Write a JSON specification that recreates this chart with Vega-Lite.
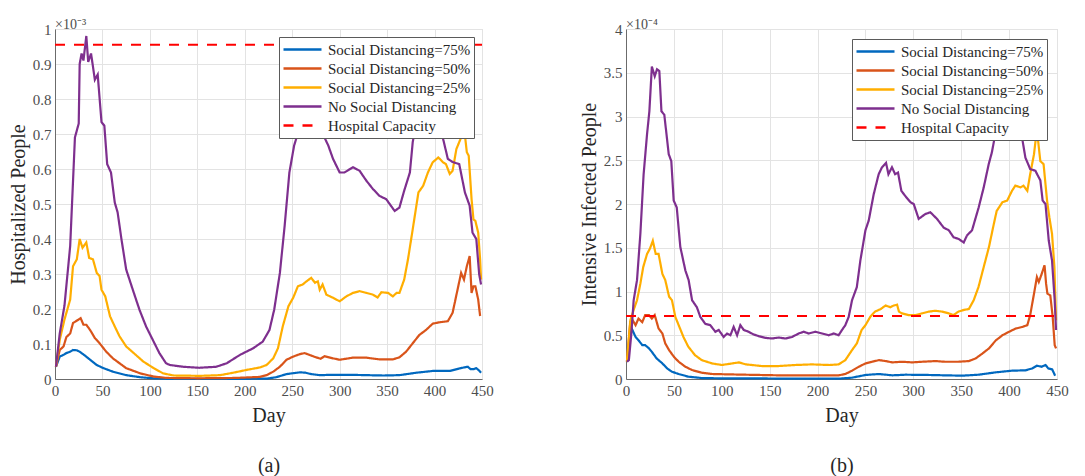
{
  "$schema": "https://vega.github.io/schema/vega-lite/v6.json",
  "padding": {"left": 7, "top": 17, "right": 5, "bottom": 0},
  "bounds": "flush",
  "spacing": 144,
  "config": {
    "font": "Liberation Serif",
    "view": {"stroke": "#d4d4d4"},
    "axis": {
      "labelFont": "Liberation Serif", "labelFontSize": 15, "labelColor": "#4d4d4d", "labelFlush": false,
      "titleFont": "Liberation Serif", "titleFontSize": 20, "titleFontWeight": "normal", "titleColor": "#262626",
      "domainColor": "#6b6b6b", "gridColor": "#e3e3e3", "ticks": false, "labelPadding": 4
    },
    "legend": {
      "labelFont": "Liberation Serif", "labelFontSize": 15, "labelColor": "#262626", "labelLimit": 300,
      "symbolType": "stroke", "symbolSize": 1444, "symbolStrokeWidth": 2.5, "clipHeight": 19,
      "rowPadding": 0, "labelOffset": 5, "padding": 3, "strokeColor": "#5a5a5a", "fillColor": "#ffffff",
      "cornerRadius": 0
    },
    "title": {"anchor": "start", "frame": "group", "fontSize": 14, "fontWeight": "normal", "color": "#4d4d4d", "font": "Liberation Serif", "offset": -10}
  },
  "resolve": {"scale": {"color": "independent", "strokeDash": "independent"}, "legend": {"color": "independent", "strokeDash": "independent"}},
  "datasets": {
    "a": [
      {"series":"Social Distancing=75%","day":1,"value":0.035},{"series":"Social Distancing=75%","day":5,"value":0.064},{"series":"Social Distancing=75%","day":9,"value":0.069},{"series":"Social Distancing=75%","day":12,"value":0.074},{"series":"Social Distancing=75%","day":16,"value":0.078},{"series":"Social Distancing=75%","day":19,"value":0.083},{"series":"Social Distancing=75%","day":23,"value":0.082},{"series":"Social Distancing=75%","day":26,"value":0.078},{"series":"Social Distancing=75%","day":29,"value":0.072},{"series":"Social Distancing=75%","day":32,"value":0.066},{"series":"Social Distancing=75%","day":37,"value":0.055},{"series":"Social Distancing=75%","day":44,"value":0.04},{"series":"Social Distancing=75%","day":51,"value":0.031},{"series":"Social Distancing=75%","day":61,"value":0.021},{"series":"Social Distancing=75%","day":75,"value":0.011},{"series":"Social Distancing=75%","day":90,"value":0.005},{"series":"Social Distancing=75%","day":104,"value":0.002},{"series":"Social Distancing=75%","day":118,"value":0.0005},{"series":"Social Distancing=75%","day":150,"value":0.0003},{"series":"Social Distancing=75%","day":200,"value":0.0005},{"series":"Social Distancing=75%","day":223,"value":0.001},{"series":"Social Distancing=75%","day":233,"value":0.005},{"series":"Social Distancing=75%","day":244,"value":0.014},{"series":"Social Distancing=75%","day":252,"value":0.017},{"series":"Social Distancing=75%","day":258,"value":0.019},{"series":"Social Distancing=75%","day":264,"value":0.018},{"series":"Social Distancing=75%","day":270,"value":0.014},{"series":"Social Distancing=75%","day":279,"value":0.011},{"series":"Social Distancing=75%","day":293,"value":0.012},{"series":"Social Distancing=75%","day":311,"value":0.012},{"series":"Social Distancing=75%","day":328,"value":0.011},{"series":"Social Distancing=75%","day":346,"value":0.01},{"series":"Social Distancing=75%","day":363,"value":0.011},{"series":"Social Distancing=75%","day":381,"value":0.018},{"series":"Social Distancing=75%","day":398,"value":0.023},{"series":"Social Distancing=75%","day":416,"value":0.023},{"series":"Social Distancing=75%","day":426,"value":0.03},{"series":"Social Distancing=75%","day":431,"value":0.033},{"series":"Social Distancing=75%","day":435,"value":0.035},{"series":"Social Distancing=75%","day":438,"value":0.028},{"series":"Social Distancing=75%","day":441,"value":0.028},{"series":"Social Distancing=75%","day":444,"value":0.031},{"series":"Social Distancing=75%","day":447,"value":0.024},{"series":"Social Distancing=75%","day":449,"value":0.018},

      {"series":"Social Distancing=50%","day":1,"value":0.035},{"series":"Social Distancing=50%","day":5,"value":0.083},{"series":"Social Distancing=50%","day":9,"value":0.093},{"series":"Social Distancing=50%","day":12,"value":0.12},{"series":"Social Distancing=50%","day":16,"value":0.13},{"series":"Social Distancing=50%","day":19,"value":0.16},{"series":"Social Distancing=50%","day":22,"value":0.165},{"series":"Social Distancing=50%","day":25,"value":0.17},{"series":"Social Distancing=50%","day":27,"value":0.174},{"series":"Social Distancing=50%","day":30,"value":0.155},{"series":"Social Distancing=50%","day":33,"value":0.155},{"series":"Social Distancing=50%","day":37,"value":0.14},{"series":"Social Distancing=50%","day":42,"value":0.117},{"series":"Social Distancing=50%","day":47,"value":0.102},{"series":"Social Distancing=50%","day":54,"value":0.078},{"series":"Social Distancing=50%","day":61,"value":0.059},{"series":"Social Distancing=50%","day":68,"value":0.045},{"series":"Social Distancing=50%","day":75,"value":0.031},{"series":"Social Distancing=50%","day":90,"value":0.016},{"series":"Social Distancing=50%","day":104,"value":0.007},{"series":"Social Distancing=50%","day":118,"value":0.003},{"series":"Social Distancing=50%","day":150,"value":0.002},{"series":"Social Distancing=50%","day":190,"value":0.003},{"series":"Social Distancing=50%","day":216,"value":0.006},{"series":"Social Distancing=50%","day":223,"value":0.011},{"series":"Social Distancing=50%","day":230,"value":0.021},{"series":"Social Distancing=50%","day":237,"value":0.035},{"series":"Social Distancing=50%","day":244,"value":0.055},{"series":"Social Distancing=50%","day":251,"value":0.064},{"series":"Social Distancing=50%","day":258,"value":0.071},{"series":"Social Distancing=50%","day":263,"value":0.074},{"series":"Social Distancing=50%","day":268,"value":0.069},{"series":"Social Distancing=50%","day":275,"value":0.062},{"series":"Social Distancing=50%","day":280,"value":0.058},{"series":"Social Distancing=50%","day":284,"value":0.065},{"series":"Social Distancing=50%","day":293,"value":0.059},{"series":"Social Distancing=50%","day":300,"value":0.055},{"series":"Social Distancing=50%","day":314,"value":0.061},{"series":"Social Distancing=50%","day":328,"value":0.061},{"series":"Social Distancing=50%","day":342,"value":0.056},{"series":"Social Distancing=50%","day":356,"value":0.056},{"series":"Social Distancing=50%","day":363,"value":0.062},{"series":"Social Distancing=50%","day":370,"value":0.078},{"series":"Social Distancing=50%","day":377,"value":0.102},{"series":"Social Distancing=50%","day":384,"value":0.126},{"series":"Social Distancing=50%","day":391,"value":0.14},{"series":"Social Distancing=50%","day":398,"value":0.158},{"series":"Social Distancing=50%","day":405,"value":0.162},{"series":"Social Distancing=50%","day":414,"value":0.165},{"series":"Social Distancing=50%","day":419,"value":0.189},{"series":"Social Distancing=50%","day":425,"value":0.265},{"series":"Social Distancing=50%","day":428,"value":0.303},{"series":"Social Distancing=50%","day":431,"value":0.284},{"series":"Social Distancing=50%","day":434,"value":0.322},{"series":"Social Distancing=50%","day":437,"value":0.351},{"series":"Social Distancing=50%","day":439,"value":0.246},{"series":"Social Distancing=50%","day":441,"value":0.265},{"series":"Social Distancing=50%","day":443,"value":0.265},{"series":"Social Distancing=50%","day":446,"value":0.227},{"series":"Social Distancing=50%","day":448,"value":0.18},

      {"series":"Social Distancing=25%","day":1,"value":0.035},{"series":"Social Distancing=25%","day":5,"value":0.112},{"series":"Social Distancing=25%","day":10,"value":0.17},{"series":"Social Distancing=25%","day":16,"value":0.227},{"series":"Social Distancing=25%","day":19,"value":0.322},{"series":"Social Distancing=25%","day":23,"value":0.342},{"series":"Social Distancing=25%","day":26,"value":0.4},{"series":"Social Distancing=25%","day":29,"value":0.375},{"series":"Social Distancing=25%","day":33,"value":0.39},{"series":"Social Distancing=25%","day":36,"value":0.346},{"series":"Social Distancing=25%","day":40,"value":0.342},{"series":"Social Distancing=25%","day":44,"value":0.303},{"series":"Social Distancing=25%","day":47,"value":0.294},{"series":"Social Distancing=25%","day":49,"value":0.255},{"series":"Social Distancing=25%","day":53,"value":0.236},{"series":"Social Distancing=25%","day":58,"value":0.179},{"series":"Social Distancing=25%","day":63,"value":0.15},{"series":"Social Distancing=25%","day":68,"value":0.122},{"series":"Social Distancing=25%","day":75,"value":0.093},{"series":"Social Distancing=25%","day":83,"value":0.074},{"series":"Social Distancing=25%","day":93,"value":0.05},{"series":"Social Distancing=25%","day":104,"value":0.031},{"series":"Social Distancing=25%","day":114,"value":0.016},{"series":"Social Distancing=25%","day":125,"value":0.01},{"series":"Social Distancing=25%","day":153,"value":0.009},{"series":"Social Distancing=25%","day":174,"value":0.011},{"series":"Social Distancing=25%","day":188,"value":0.018},{"series":"Social Distancing=25%","day":202,"value":0.026},{"series":"Social Distancing=25%","day":216,"value":0.033},{"series":"Social Distancing=25%","day":223,"value":0.04},{"series":"Social Distancing=25%","day":230,"value":0.059},{"series":"Social Distancing=25%","day":235,"value":0.088},{"series":"Social Distancing=25%","day":240,"value":0.15},{"series":"Social Distancing=25%","day":246,"value":0.208},{"series":"Social Distancing=25%","day":251,"value":0.232},{"series":"Social Distancing=25%","day":256,"value":0.265},{"series":"Social Distancing=25%","day":261,"value":0.27},{"series":"Social Distancing=25%","day":265,"value":0.279},{"series":"Social Distancing=25%","day":270,"value":0.289},{"series":"Social Distancing=25%","day":274,"value":0.275},{"series":"Social Distancing=25%","day":277,"value":0.279},{"series":"Social Distancing=25%","day":279,"value":0.255},{"series":"Social Distancing=25%","day":282,"value":0.27},{"series":"Social Distancing=25%","day":286,"value":0.241},{"series":"Social Distancing=25%","day":293,"value":0.232},{"series":"Social Distancing=25%","day":300,"value":0.222},{"series":"Social Distancing=25%","day":307,"value":0.236},{"series":"Social Distancing=25%","day":314,"value":0.246},{"series":"Social Distancing=25%","day":321,"value":0.251},{"series":"Social Distancing=25%","day":328,"value":0.246},{"series":"Social Distancing=25%","day":335,"value":0.241},{"series":"Social Distancing=25%","day":340,"value":0.233},{"series":"Social Distancing=25%","day":344,"value":0.248},{"series":"Social Distancing=25%","day":351,"value":0.246},{"series":"Social Distancing=25%","day":356,"value":0.236},{"series":"Social Distancing=25%","day":360,"value":0.246},{"series":"Social Distancing=25%","day":363,"value":0.246},{"series":"Social Distancing=25%","day":368,"value":0.284},{"series":"Social Distancing=25%","day":372,"value":0.342},{"series":"Social Distancing=25%","day":377,"value":0.428},{"series":"Social Distancing=25%","day":383,"value":0.533},{"series":"Social Distancing=25%","day":388,"value":0.552},{"series":"Social Distancing=25%","day":393,"value":0.59},{"series":"Social Distancing=25%","day":398,"value":0.619},{"series":"Social Distancing=25%","day":404,"value":0.633},{"series":"Social Distancing=25%","day":409,"value":0.619},{"series":"Social Distancing=25%","day":412,"value":0.614},{"series":"Social Distancing=25%","day":416,"value":0.586},{"series":"Social Distancing=25%","day":419,"value":0.595},{"series":"Social Distancing=25%","day":423,"value":0.657},{"series":"Social Distancing=25%","day":428,"value":0.69},{"series":"Social Distancing=25%","day":431,"value":0.72},{"series":"Social Distancing=25%","day":434,"value":0.648},{"series":"Social Distancing=25%","day":436,"value":0.638},{"series":"Social Distancing=25%","day":439,"value":0.514},{"series":"Social Distancing=25%","day":441,"value":0.456},{"series":"Social Distancing=25%","day":443,"value":0.452},{"series":"Social Distancing=25%","day":446,"value":0.418},{"series":"Social Distancing=25%","day":448,"value":0.342},{"series":"Social Distancing=25%","day":449,"value":0.284},

      {"series":"No Social Distancing","day":1,"value":0.035},{"series":"No Social Distancing","day":5,"value":0.13},{"series":"No Social Distancing","day":10,"value":0.21},{"series":"No Social Distancing","day":16,"value":0.38},{"series":"No Social Distancing","day":21,"value":0.69},{"series":"No Social Distancing","day":25,"value":0.73},{"series":"No Social Distancing","day":26,"value":0.9},{"series":"No Social Distancing","day":28,"value":0.93},{"series":"No Social Distancing","day":30,"value":0.91},{"series":"No Social Distancing","day":33,"value":0.98},{"series":"No Social Distancing","day":35,"value":0.906},{"series":"No Social Distancing","day":38,"value":0.93},{"series":"No Social Distancing","day":42,"value":0.855},{"series":"No Social Distancing","day":45,"value":0.87},{"series":"No Social Distancing","day":49,"value":0.734},{"series":"No Social Distancing","day":52,"value":0.724},{"series":"No Social Distancing","day":55,"value":0.614},{"series":"No Social Distancing","day":59,"value":0.59},{"series":"No Social Distancing","day":63,"value":0.504},{"series":"No Social Distancing","day":66,"value":0.476},{"series":"No Social Distancing","day":70,"value":0.4},{"series":"No Social Distancing","day":75,"value":0.313},{"series":"No Social Distancing","day":82,"value":0.255},{"series":"No Social Distancing","day":89,"value":0.198},{"series":"No Social Distancing","day":96,"value":0.15},{"series":"No Social Distancing","day":103,"value":0.112},{"series":"No Social Distancing","day":110,"value":0.074},{"series":"No Social Distancing","day":117,"value":0.045},{"series":"No Social Distancing","day":121,"value":0.04},{"series":"No Social Distancing","day":135,"value":0.035},{"series":"No Social Distancing","day":152,"value":0.032},{"series":"No Social Distancing","day":170,"value":0.035},{"series":"No Social Distancing","day":181,"value":0.045},{"series":"No Social Distancing","day":195,"value":0.069},{"series":"No Social Distancing","day":209,"value":0.088},{"series":"No Social Distancing","day":219,"value":0.107},{"series":"No Social Distancing","day":226,"value":0.14},{"series":"No Social Distancing","day":231,"value":0.198},{"series":"No Social Distancing","day":237,"value":0.303},{"series":"No Social Distancing","day":242,"value":0.437},{"series":"No Social Distancing","day":247,"value":0.59},{"series":"No Social Distancing","day":252,"value":0.667},{"series":"No Social Distancing","day":258,"value":0.72},{"series":"No Social Distancing","day":263,"value":0.75},{"series":"No Social Distancing","day":268,"value":0.77},{"series":"No Social Distancing","day":273,"value":0.76},{"series":"No Social Distancing","day":278,"value":0.73},{"series":"No Social Distancing","day":284,"value":0.69},{"series":"No Social Distancing","day":288,"value":0.667},{"series":"No Social Distancing","day":293,"value":0.629},{"series":"No Social Distancing","day":300,"value":0.59},{"series":"No Social Distancing","day":305,"value":0.59},{"series":"No Social Distancing","day":314,"value":0.605},{"series":"No Social Distancing","day":321,"value":0.595},{"series":"No Social Distancing","day":328,"value":0.567},{"series":"No Social Distancing","day":335,"value":0.543},{"series":"No Social Distancing","day":342,"value":0.523},{"series":"No Social Distancing","day":349,"value":0.514},{"series":"No Social Distancing","day":354,"value":0.495},{"series":"No Social Distancing","day":358,"value":0.48},{"series":"No Social Distancing","day":363,"value":0.49},{"series":"No Social Distancing","day":368,"value":0.538},{"series":"No Social Distancing","day":374,"value":0.59},{"series":"No Social Distancing","day":377,"value":0.677},{"series":"No Social Distancing","day":382,"value":0.75},{"series":"No Social Distancing","day":387,"value":0.8},{"series":"No Social Distancing","day":393,"value":0.83},{"series":"No Social Distancing","day":399,"value":0.82},{"series":"No Social Distancing","day":405,"value":0.76},{"series":"No Social Distancing","day":409,"value":0.686},{"series":"No Social Distancing","day":414,"value":0.629},{"series":"No Social Distancing","day":419,"value":0.62},{"series":"No Social Distancing","day":426,"value":0.614},{"series":"No Social Distancing","day":432,"value":0.533},{"series":"No Social Distancing","day":437,"value":0.495},{"series":"No Social Distancing","day":440,"value":0.418},{"series":"No Social Distancing","day":444,"value":0.4},{"series":"No Social Distancing","day":447,"value":0.3},{"series":"No Social Distancing","day":449,"value":0.27},

      {"series":"Hospital Capacity","day":0,"value":0.955},{"series":"Hospital Capacity","day":450,"value":0.955}
    ],
    "b": [
      {"series":"Social Distancing=75%","day":1,"value":0.2},{"series":"Social Distancing=75%","day":4,"value":0.45},{"series":"Social Distancing=75%","day":6,"value":0.577},{"series":"Social Distancing=75%","day":10,"value":0.48},{"series":"Social Distancing=75%","day":13,"value":0.444},{"series":"Social Distancing=75%","day":17,"value":0.387},{"series":"Social Distancing=75%","day":20,"value":0.387},{"series":"Social Distancing=75%","day":24,"value":0.35},{"series":"Social Distancing=75%","day":27,"value":0.31},{"series":"Social Distancing=75%","day":32,"value":0.235},{"series":"Social Distancing=75%","day":38,"value":0.178},{"series":"Social Distancing=75%","day":43,"value":0.12},{"series":"Social Distancing=75%","day":48,"value":0.083},{"series":"Social Distancing=75%","day":55,"value":0.057},{"series":"Social Distancing=75%","day":65,"value":0.027},{"series":"Social Distancing=75%","day":79,"value":0.011},{"series":"Social Distancing=75%","day":97,"value":0.008},{"series":"Social Distancing=75%","day":125,"value":0.008},{"series":"Social Distancing=75%","day":160,"value":0.005},{"series":"Social Distancing=75%","day":222,"value":0.004},{"series":"Social Distancing=75%","day":236,"value":0.015},{"series":"Social Distancing=75%","day":250,"value":0.046},{"series":"Social Distancing=75%","day":264,"value":0.057},{"series":"Social Distancing=75%","day":278,"value":0.042},{"series":"Social Distancing=75%","day":292,"value":0.049},{"series":"Social Distancing=75%","day":316,"value":0.046},{"series":"Social Distancing=75%","day":333,"value":0.042},{"series":"Social Distancing=75%","day":351,"value":0.038},{"series":"Social Distancing=75%","day":368,"value":0.049},{"series":"Social Distancing=75%","day":386,"value":0.076},{"series":"Social Distancing=75%","day":403,"value":0.095},{"series":"Social Distancing=75%","day":417,"value":0.099},{"series":"Social Distancing=75%","day":424,"value":0.12},{"series":"Social Distancing=75%","day":429,"value":0.152},{"series":"Social Distancing=75%","day":434,"value":0.14},{"series":"Social Distancing=75%","day":438,"value":0.16},{"series":"Social Distancing=75%","day":441,"value":0.12},{"series":"Social Distancing=75%","day":445,"value":0.11},{"series":"Social Distancing=75%","day":448,"value":0.038},

      {"series":"Social Distancing=50%","day":1,"value":0.2},{"series":"Social Distancing=50%","day":4.5,"value":0.65},{"series":"Social Distancing=50%","day":7,"value":0.67},{"series":"Social Distancing=50%","day":10,"value":0.615},{"series":"Social Distancing=50%","day":13,"value":0.69},{"series":"Social Distancing=50%","day":17,"value":0.65},{"series":"Social Distancing=50%","day":20,"value":0.73},{"series":"Social Distancing=50%","day":24,"value":0.73},{"series":"Social Distancing=50%","day":27,"value":0.69},{"series":"Social Distancing=50%","day":30,"value":0.73},{"series":"Social Distancing=50%","day":34,"value":0.577},{"series":"Social Distancing=50%","day":38,"value":0.52},{"series":"Social Distancing=50%","day":41,"value":0.406},{"series":"Social Distancing=50%","day":45,"value":0.33},{"series":"Social Distancing=50%","day":50,"value":0.254},{"series":"Social Distancing=50%","day":55,"value":0.197},{"series":"Social Distancing=50%","day":62,"value":0.14},{"series":"Social Distancing=50%","day":69,"value":0.102},{"series":"Social Distancing=50%","day":79,"value":0.072},{"series":"Social Distancing=50%","day":90,"value":0.057},{"series":"Social Distancing=50%","day":107,"value":0.053},{"series":"Social Distancing=50%","day":125,"value":0.049},{"series":"Social Distancing=50%","day":159,"value":0.042},{"series":"Social Distancing=50%","day":194,"value":0.042},{"series":"Social Distancing=50%","day":222,"value":0.042},{"series":"Social Distancing=50%","day":229,"value":0.057},{"series":"Social Distancing=50%","day":236,"value":0.095},{"series":"Social Distancing=50%","day":243,"value":0.14},{"series":"Social Distancing=50%","day":250,"value":0.178},{"series":"Social Distancing=50%","day":257,"value":0.197},{"series":"Social Distancing=50%","day":264,"value":0.216},{"series":"Social Distancing=50%","day":271,"value":0.205},{"series":"Social Distancing=50%","day":278,"value":0.19},{"series":"Social Distancing=50%","day":288,"value":0.197},{"series":"Social Distancing=50%","day":299,"value":0.19},{"series":"Social Distancing=50%","day":309,"value":0.197},{"series":"Social Distancing=50%","day":323,"value":0.205},{"series":"Social Distancing=50%","day":333,"value":0.197},{"series":"Social Distancing=50%","day":347,"value":0.197},{"series":"Social Distancing=50%","day":358,"value":0.205},{"series":"Social Distancing=50%","day":365,"value":0.235},{"series":"Social Distancing=50%","day":372,"value":0.29},{"series":"Social Distancing=50%","day":379,"value":0.35},{"series":"Social Distancing=50%","day":386,"value":0.44},{"series":"Social Distancing=50%","day":393,"value":0.5},{"series":"Social Distancing=50%","day":400,"value":0.54},{"series":"Social Distancing=50%","day":407,"value":0.577},{"series":"Social Distancing=50%","day":414,"value":0.596},{"series":"Social Distancing=50%","day":419,"value":0.615},{"series":"Social Distancing=50%","day":422,"value":0.73},{"series":"Social Distancing=50%","day":426,"value":0.975},{"series":"Social Distancing=50%","day":429,"value":1.165},{"series":"Social Distancing=50%","day":431,"value":1.11},{"series":"Social Distancing=50%","day":434,"value":1.2},{"series":"Social Distancing=50%","day":437,"value":1.3},{"series":"Social Distancing=50%","day":438.6,"value":1.09},{"series":"Social Distancing=50%","day":440,"value":0.975},{"series":"Social Distancing=50%","day":443,"value":0.956},{"series":"Social Distancing=50%","day":445.5,"value":0.71},{"series":"Social Distancing=50%","day":447.6,"value":0.387},{"series":"Social Distancing=50%","day":449,"value":0.35},

      {"series":"Social Distancing=25%","day":1,"value":0.2},{"series":"Social Distancing=25%","day":4.5,"value":0.67},{"series":"Social Distancing=25%","day":8,"value":0.79},{"series":"Social Distancing=25%","day":11.5,"value":0.9},{"series":"Social Distancing=25%","day":15,"value":1.09},{"series":"Social Distancing=25%","day":18,"value":1.28},{"series":"Social Distancing=25%","day":22,"value":1.43},{"series":"Social Distancing=25%","day":25,"value":1.49},{"series":"Social Distancing=25%","day":28,"value":1.58},{"series":"Social Distancing=25%","day":31,"value":1.43},{"series":"Social Distancing=25%","day":34,"value":1.43},{"series":"Social Distancing=25%","day":38,"value":1.2},{"series":"Social Distancing=25%","day":41,"value":1.13},{"series":"Social Distancing=25%","day":45,"value":0.94},{"series":"Social Distancing=25%","day":48,"value":0.9},{"series":"Social Distancing=25%","day":51.5,"value":0.71},{"series":"Social Distancing=25%","day":55,"value":0.615},{"series":"Social Distancing=25%","day":60,"value":0.48},{"series":"Social Distancing=25%","day":65,"value":0.37},{"series":"Social Distancing=25%","day":72,"value":0.273},{"series":"Social Distancing=25%","day":79,"value":0.216},{"series":"Social Distancing=25%","day":90,"value":0.178},{"series":"Social Distancing=25%","day":100,"value":0.16},{"series":"Social Distancing=25%","day":111,"value":0.178},{"series":"Social Distancing=25%","day":118,"value":0.19},{"series":"Social Distancing=25%","day":125,"value":0.167},{"series":"Social Distancing=25%","day":142,"value":0.148},{"series":"Social Distancing=25%","day":159,"value":0.148},{"series":"Social Distancing=25%","day":177,"value":0.16},{"series":"Social Distancing=25%","day":194,"value":0.167},{"series":"Social Distancing=25%","day":212,"value":0.16},{"series":"Social Distancing=25%","day":222,"value":0.167},{"series":"Social Distancing=25%","day":229,"value":0.216},{"series":"Social Distancing=25%","day":236,"value":0.33},{"series":"Social Distancing=25%","day":241,"value":0.406},{"series":"Social Distancing=25%","day":246,"value":0.56},{"series":"Social Distancing=25%","day":250,"value":0.615},{"series":"Social Distancing=25%","day":255,"value":0.71},{"series":"Social Distancing=25%","day":260,"value":0.77},{"series":"Social Distancing=25%","day":266,"value":0.8},{"series":"Social Distancing=25%","day":271,"value":0.84},{"series":"Social Distancing=25%","day":276,"value":0.82},{"series":"Social Distancing=25%","day":279.5,"value":0.84},{"series":"Social Distancing=25%","day":283,"value":0.85},{"series":"Social Distancing=25%","day":285,"value":0.77},{"series":"Social Distancing=25%","day":288,"value":0.75},{"series":"Social Distancing=25%","day":295,"value":0.73},{"series":"Social Distancing=25%","day":302,"value":0.73},{"series":"Social Distancing=25%","day":309,"value":0.75},{"series":"Social Distancing=25%","day":316,"value":0.77},{"series":"Social Distancing=25%","day":323,"value":0.78},{"series":"Social Distancing=25%","day":330,"value":0.77},{"series":"Social Distancing=25%","day":337,"value":0.75},{"series":"Social Distancing=25%","day":342,"value":0.73},{"series":"Social Distancing=25%","day":347,"value":0.77},{"series":"Social Distancing=25%","day":353,"value":0.79},{"series":"Social Distancing=25%","day":358,"value":0.8},{"series":"Social Distancing=25%","day":363,"value":0.9},{"series":"Social Distancing=25%","day":368,"value":1.05},{"series":"Social Distancing=25%","day":373.5,"value":1.28},{"series":"Social Distancing=25%","day":379,"value":1.51},{"series":"Social Distancing=25%","day":384,"value":1.77},{"series":"Social Distancing=25%","day":387,"value":1.92},{"series":"Social Distancing=25%","day":393,"value":2.02},{"series":"Social Distancing=25%","day":398,"value":2.04},{"series":"Social Distancing=25%","day":403,"value":2.15},{"series":"Social Distancing=25%","day":406.5,"value":2.21},{"series":"Social Distancing=25%","day":412,"value":2.19},{"series":"Social Distancing=25%","day":415,"value":2.21},{"series":"Social Distancing=25%","day":419,"value":2.15},{"series":"Social Distancing=25%","day":422,"value":2.34},{"series":"Social Distancing=25%","day":426,"value":2.57},{"series":"Social Distancing=25%","day":429,"value":2.85},{"series":"Social Distancing=25%","day":432.6,"value":2.49},{"series":"Social Distancing=25%","day":436,"value":2.455},{"series":"Social Distancing=25%","day":439.6,"value":2.04},{"series":"Social Distancing=25%","day":442,"value":1.85},{"series":"Social Distancing=25%","day":444.8,"value":1.66},{"series":"Social Distancing=25%","day":447.3,"value":1.28},{"series":"Social Distancing=25%","day":449,"value":0.67},

      {"series":"No Social Distancing","day":1,"value":0.197},{"series":"No Social Distancing","day":3,"value":0.216},{"series":"No Social Distancing","day":5.6,"value":0.52},{"series":"No Social Distancing","day":8,"value":0.9},{"series":"No Social Distancing","day":11.5,"value":1.13},{"series":"No Social Distancing","day":15,"value":1.66},{"series":"No Social Distancing","day":18.4,"value":2.34},{"series":"No Social Distancing","day":22,"value":2.8},{"series":"No Social Distancing","day":24.4,"value":3.06},{"series":"No Social Distancing","day":27,"value":3.57},{"series":"No Social Distancing","day":30,"value":3.46},{"series":"No Social Distancing","day":32.4,"value":3.54},{"series":"No Social Distancing","day":34.8,"value":3.52},{"series":"No Social Distancing","day":37,"value":3.06},{"series":"No Social Distancing","day":40,"value":3.02},{"series":"No Social Distancing","day":44.6,"value":2.57},{"series":"No Social Distancing","day":47.3,"value":2.49},{"series":"No Social Distancing","day":49.8,"value":2.04},{"series":"No Social Distancing","day":53,"value":1.96},{"series":"No Social Distancing","day":56.7,"value":1.51},{"series":"No Social Distancing","day":62,"value":1.24},{"series":"No Social Distancing","day":65.4,"value":1.13},{"series":"No Social Distancing","day":69,"value":0.9},{"series":"No Social Distancing","day":74,"value":0.82},{"series":"No Social Distancing","day":77.6,"value":0.71},{"series":"No Social Distancing","day":82.8,"value":0.63},{"series":"No Social Distancing","day":88,"value":0.615},{"series":"No Social Distancing","day":93.3,"value":0.54},{"series":"No Social Distancing","day":96.8,"value":0.56},{"series":"No Social Distancing","day":102,"value":0.48},{"series":"No Social Distancing","day":105.5,"value":0.52},{"series":"No Social Distancing","day":109,"value":0.5},{"series":"No Social Distancing","day":112.4,"value":0.596},{"series":"No Social Distancing","day":116,"value":0.5},{"series":"No Social Distancing","day":119.4,"value":0.615},{"series":"No Social Distancing","day":123,"value":0.56},{"series":"No Social Distancing","day":128,"value":0.54},{"series":"No Social Distancing","day":133,"value":0.51},{"series":"No Social Distancing","day":138.5,"value":0.49},{"series":"No Social Distancing","day":145.5,"value":0.47},{"series":"No Social Distancing","day":152.5,"value":0.463},{"series":"No Social Distancing","day":159.4,"value":0.474},{"series":"No Social Distancing","day":166.4,"value":0.463},{"series":"No Social Distancing","day":173.3,"value":0.48},{"series":"No Social Distancing","day":180.3,"value":0.52},{"series":"No Social Distancing","day":185.5,"value":0.54},{"series":"No Social Distancing","day":190.7,"value":0.52},{"series":"No Social Distancing","day":197.7,"value":0.54},{"series":"No Social Distancing","day":204.7,"value":0.52},{"series":"No Social Distancing","day":211.6,"value":0.5},{"series":"No Social Distancing","day":216.8,"value":0.52},{"series":"No Social Distancing","day":222,"value":0.5},{"series":"No Social Distancing","day":225.5,"value":0.56},{"series":"No Social Distancing","day":229,"value":0.615},{"series":"No Social Distancing","day":232.5,"value":0.71},{"series":"No Social Distancing","day":236,"value":0.9},{"series":"No Social Distancing","day":241,"value":1.05},{"series":"No Social Distancing","day":244.7,"value":1.355},{"series":"No Social Distancing","day":250,"value":1.7},{"series":"No Social Distancing","day":253.4,"value":1.81},{"series":"No Social Distancing","day":258.6,"value":2.11},{"series":"No Social Distancing","day":263.8,"value":2.34},{"series":"No Social Distancing","day":267.3,"value":2.42},{"series":"No Social Distancing","day":271.5,"value":2.47},{"series":"No Social Distancing","day":274,"value":2.34},{"series":"No Social Distancing","day":277.7,"value":2.42},{"series":"No Social Distancing","day":281,"value":2.34},{"series":"No Social Distancing","day":284,"value":2.36},{"series":"No Social Distancing","day":287.5,"value":2.15},{"series":"No Social Distancing","day":291.7,"value":2.09},{"series":"No Social Distancing","day":297,"value":2.02},{"series":"No Social Distancing","day":300.4,"value":2.0},{"series":"No Social Distancing","day":305.6,"value":1.83},{"series":"No Social Distancing","day":312.6,"value":1.886},{"series":"No Social Distancing","day":317.8,"value":1.905},{"series":"No Social Distancing","day":324.7,"value":1.83},{"series":"No Social Distancing","day":331.7,"value":1.73},{"series":"No Social Distancing","day":337,"value":1.7},{"series":"No Social Distancing","day":342,"value":1.62},{"series":"No Social Distancing","day":347.4,"value":1.6},{"series":"No Social Distancing","day":352.6,"value":1.56},{"series":"No Social Distancing","day":356,"value":1.64},{"series":"No Social Distancing","day":361.3,"value":1.7},{"series":"No Social Distancing","day":368.2,"value":1.96},{"series":"No Social Distancing","day":373.5,"value":2.19},{"series":"No Social Distancing","day":378.7,"value":2.455},{"series":"No Social Distancing","day":382,"value":2.59},{"series":"No Social Distancing","day":385.6,"value":2.8},{"series":"No Social Distancing","day":392,"value":3.0},{"series":"No Social Distancing","day":399,"value":3.08},{"series":"No Social Distancing","day":406,"value":2.98},{"series":"No Social Distancing","day":413.5,"value":2.76},{"series":"No Social Distancing","day":417,"value":2.53},{"series":"No Social Distancing","day":422,"value":2.4},{"series":"No Social Distancing","day":427.4,"value":2.38},{"series":"No Social Distancing","day":432.6,"value":2.27},{"series":"No Social Distancing","day":435,"value":2.04},{"series":"No Social Distancing","day":438,"value":2.0},{"series":"No Social Distancing","day":441.4,"value":1.58},{"series":"No Social Distancing","day":444.8,"value":1.355},{"series":"No Social Distancing","day":447.6,"value":0.9},{"series":"No Social Distancing","day":449,"value":0.56},

      {"series":"Hospital Capacity","day":0,"value":0.72},{"series":"Hospital Capacity","day":450,"value":0.72}
    ]
  },
  "hconcat": [
    {
      "width": 427, "height": 350,
      "title": {"text": "×10⁻³"},
      "data": {"name": "a"},
      "mark": {"type": "line", "strokeWidth": 2.2},
      "encoding": {
        "x": {"field": "day", "type": "quantitative", "scale": {"domain": [0, 450], "nice": false},
              "axis": {"values": [0,50,100,150,200,250,300,350,400,450], "title": ["Day", "(a)"], "titleLineHeight": 50, "titlePadding": 7, "grid": true}},
        "y": {"field": "value", "type": "quantitative", "scale": {"domain": [0, 1], "nice": false},
              "axis": {"values": [0,0.1,0.2,0.3,0.4,0.5,0.6,0.7,0.8,0.9,1], "format": "~g", "title": "Hospitalized People", "grid": true}},
        "color": {"field": "series", "type": "nominal",
                  "scale": {"domain": ["Social Distancing=75%","Social Distancing=50%","Social Distancing=25%","No Social Distancing","Hospital Capacity"], "range": ["#0068bf","#d9541a","#ffae00","#7e2f8e","#ff0000"]},
                  "legend": {"orient": "top-right", "title": null, "offset": 8}},
        "strokeDash": {"field": "series", "type": "nominal",
                  "scale": {"domain": ["Social Distancing=75%","Social Distancing=50%","Social Distancing=25%","No Social Distancing","Hospital Capacity"], "range": [[1,0],[1,0],[1,0],[1,0],[10,9]]},
                  "legend": {"orient": "top-right", "title": null, "offset": 8}}
      }
    },
    {
      "width": 431, "height": 350,
      "title": {"text": "×10⁻⁴"},
      "data": {"name": "b"},
      "mark": {"type": "line", "strokeWidth": 2.2},
      "encoding": {
        "x": {"field": "day", "type": "quantitative", "scale": {"domain": [0, 450], "nice": false},
              "axis": {"values": [0,50,100,150,200,250,300,350,400,450], "title": ["Day", "(b)"], "titleLineHeight": 50, "titlePadding": 7, "grid": true}},
        "y": {"field": "value", "type": "quantitative", "scale": {"domain": [0, 4], "nice": false},
              "axis": {"values": [0,0.5,1,1.5,2,2.5,3,3.5,4], "format": "~g", "title": "Intensive Infected People", "grid": true}},
        "color": {"field": "series", "type": "nominal",
                  "scale": {"domain": ["Social Distancing=75%","Social Distancing=50%","Social Distancing=25%","No Social Distancing","Hospital Capacity"], "range": ["#0068bf","#d9541a","#ffae00","#7e2f8e","#ff0000"]},
                  "legend": {"orient": "top-right", "title": null, "offset": 10}},
        "strokeDash": {"field": "series", "type": "nominal",
                  "scale": {"domain": ["Social Distancing=75%","Social Distancing=50%","Social Distancing=25%","No Social Distancing","Hospital Capacity"], "range": [[1,0],[1,0],[1,0],[1,0],[10,9]]},
                  "legend": {"orient": "top-right", "title": null, "offset": 10}}
      }
    }
  ]
}
